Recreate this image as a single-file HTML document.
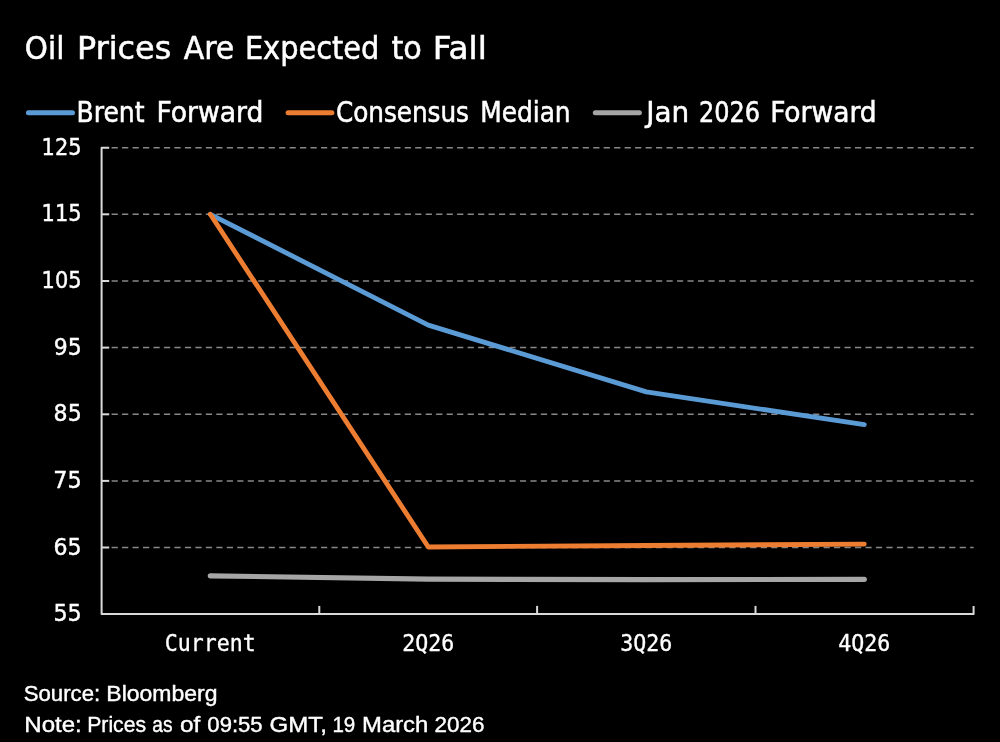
<!DOCTYPE html>
<html lang="en"><head><meta charset="utf-8"><title>Oil Prices Are Expected to Fall</title>
<style>html,body{margin:0;padding:0;background:#000;}body{width:1000px;height:742px;overflow:hidden;}svg{display:block;}.t{font-family:'DejaVu Sans Condensed','DejaVu Sans','Liberation Sans',sans-serif;font-stretch:condensed;fill:#fff;}.m{font-family:'DejaVu Sans Mono','Liberation Mono',monospace;fill:#fff;}.f{font-family:'Liberation Sans','DejaVu Sans',sans-serif;fill:#fff;}</style></head><body>
<svg width="1000" height="742" viewBox="0 0 1000 742">
<rect width="1000" height="742" fill="#000"/>
<text class="t" y="58.5" font-size="32.3" stroke="#fff" stroke-width="0.5"><tspan x="24.88" textLength="39.41" lengthAdjust="spacingAndGlyphs">Oil</tspan> <tspan x="77.13" textLength="94.12" lengthAdjust="spacingAndGlyphs">Prices</tspan> <tspan x="183.79" textLength="50.54" lengthAdjust="spacingAndGlyphs">Are</tspan> <tspan x="244.93" textLength="134.39" lengthAdjust="spacingAndGlyphs">Expected</tspan> <tspan x="391.47" textLength="30.41" lengthAdjust="spacingAndGlyphs">to</tspan> <tspan x="432.86" textLength="53.91" lengthAdjust="spacingAndGlyphs">Fall</tspan></text>
<line x1="28.4" y1="112.7" x2="72.5" y2="112.7" stroke="#5B9BD5" stroke-width="5" stroke-linecap="round"/>
<text class="t" y="121.6" font-size="27.5" stroke="#fff" stroke-width="0.5"><tspan x="76.57" textLength="67.98" lengthAdjust="spacingAndGlyphs">Brent</tspan> <tspan x="156.42" textLength="106.94" lengthAdjust="spacingAndGlyphs">Forward</tspan></text>
<line x1="288.1" y1="112.7" x2="331.9" y2="112.7" stroke="#ED7D31" stroke-width="5" stroke-linecap="round"/>
<text class="t" y="121.6" font-size="27.5" stroke="#fff" stroke-width="0.5"><tspan x="335.90" textLength="133.06" lengthAdjust="spacingAndGlyphs">Consensus</tspan> <tspan x="480.34" textLength="90.27" lengthAdjust="spacingAndGlyphs">Median</tspan></text>
<line x1="595.3" y1="112.7" x2="639.4" y2="112.7" stroke="#A5A5A5" stroke-width="5" stroke-linecap="round"/>
<text class="t" y="121.6" font-size="27.5" stroke="#fff" stroke-width="0.5"><tspan x="646.21" textLength="42.88" lengthAdjust="spacingAndGlyphs">Jan</tspan> <tspan x="699.01" textLength="61.00" lengthAdjust="spacingAndGlyphs">2026</tspan> <tspan x="770.18" textLength="106.42" lengthAdjust="spacingAndGlyphs">Forward</tspan></text>
<line x1="111.6" y1="147.7" x2="973.6" y2="147.7" stroke="#888" stroke-width="1.5" stroke-dasharray="6.2 4.27"/>
<line x1="111.6" y1="214.3" x2="973.6" y2="214.3" stroke="#888" stroke-width="1.5" stroke-dasharray="6.2 4.27"/>
<line x1="111.6" y1="281.0" x2="973.6" y2="281.0" stroke="#888" stroke-width="1.5" stroke-dasharray="6.2 4.27"/>
<line x1="111.6" y1="347.6" x2="973.6" y2="347.6" stroke="#888" stroke-width="1.5" stroke-dasharray="6.2 4.27"/>
<line x1="111.6" y1="414.3" x2="973.6" y2="414.3" stroke="#888" stroke-width="1.5" stroke-dasharray="6.2 4.27"/>
<line x1="111.6" y1="480.9" x2="973.6" y2="480.9" stroke="#888" stroke-width="1.5" stroke-dasharray="6.2 4.27"/>
<line x1="111.6" y1="547.5" x2="973.6" y2="547.5" stroke="#888" stroke-width="1.5" stroke-dasharray="6.2 4.27"/>
<text class="t" x="41.61" y="154.7" font-size="23.4" textLength="39.95" lengthAdjust="spacingAndGlyphs" stroke="#fff" stroke-width="0.4">125</text>
<text class="t" x="41.61" y="221.3" font-size="23.4" textLength="39.95" lengthAdjust="spacingAndGlyphs" stroke="#fff" stroke-width="0.4">115</text>
<text class="t" x="41.61" y="288.0" font-size="23.4" textLength="39.95" lengthAdjust="spacingAndGlyphs" stroke="#fff" stroke-width="0.4">105</text>
<text class="t" x="53.75" y="354.6" font-size="23.4" textLength="27.91" lengthAdjust="spacingAndGlyphs" stroke="#fff" stroke-width="0.4">95</text>
<text class="t" x="53.63" y="421.3" font-size="23.4" textLength="28.03" lengthAdjust="spacingAndGlyphs" stroke="#fff" stroke-width="0.4">85</text>
<text class="t" x="53.30" y="487.9" font-size="23.4" textLength="28.39" lengthAdjust="spacingAndGlyphs" stroke="#fff" stroke-width="0.4">75</text>
<text class="t" x="53.58" y="554.5" font-size="23.4" textLength="28.09" lengthAdjust="spacingAndGlyphs" stroke="#fff" stroke-width="0.4">65</text>
<text class="t" x="53.41" y="621.2" font-size="23.4" textLength="28.27" lengthAdjust="spacingAndGlyphs" stroke="#fff" stroke-width="0.4">55</text>
<polyline points="210.3,575.8 428.3,579.2 646.3,579.7 864.3,579.3" fill="none" stroke="#A6A6A6" stroke-width="5.2" stroke-linecap="round" stroke-linejoin="round"/>
<polyline points="210.3,214.3 428.3,325.1 646.3,391.9 864.3,424.6" fill="none" stroke="#5B9BD5" stroke-width="4.8" stroke-linecap="round" stroke-linejoin="round"/>
<polyline points="210.3,214.3 428.3,547.0 646.3,545.5 864.3,544.1" fill="none" stroke="#ED7D31" stroke-width="4.8" stroke-linecap="round" stroke-linejoin="round"/>
<path d="M109.2,147.7 H101.6 V614.1 H973.6 v-8.2" fill="none" stroke="#D9D9D9" stroke-width="2" stroke-linejoin="round" stroke-linecap="butt"/>
<line x1="101.6" y1="214.3" x2="109.2" y2="214.3" stroke="#D9D9D9" stroke-width="2"/>
<line x1="101.6" y1="281.0" x2="109.2" y2="281.0" stroke="#D9D9D9" stroke-width="2"/>
<line x1="101.6" y1="347.6" x2="109.2" y2="347.6" stroke="#D9D9D9" stroke-width="2"/>
<line x1="101.6" y1="414.3" x2="109.2" y2="414.3" stroke="#D9D9D9" stroke-width="2"/>
<line x1="101.6" y1="480.9" x2="109.2" y2="480.9" stroke="#D9D9D9" stroke-width="2"/>
<line x1="101.6" y1="547.5" x2="109.2" y2="547.5" stroke="#D9D9D9" stroke-width="2"/>
<line x1="319.3" y1="614.1" x2="319.3" y2="605.9" stroke="#D9D9D9" stroke-width="2"/>
<line x1="537.1" y1="614.1" x2="537.1" y2="605.9" stroke="#D9D9D9" stroke-width="2"/>
<line x1="755.5" y1="614.1" x2="755.5" y2="605.9" stroke="#D9D9D9" stroke-width="2"/>
<text class="m" x="164.7" y="650.6" font-size="23.2" textLength="91.0" lengthAdjust="spacingAndGlyphs" stroke="#fff" stroke-width="0.35">Current</text>
<text class="m" x="402.2" y="650.6" font-size="23.2" textLength="52.0" lengthAdjust="spacingAndGlyphs" stroke="#fff" stroke-width="0.35">2Q26</text>
<text class="m" x="620.2" y="650.6" font-size="23.2" textLength="52.0" lengthAdjust="spacingAndGlyphs" stroke="#fff" stroke-width="0.35">3Q26</text>
<text class="m" x="838.2" y="650.6" font-size="23.2" textLength="52.0" lengthAdjust="spacingAndGlyphs" stroke="#fff" stroke-width="0.35">4Q26</text>
<text class="f" y="701.3" font-size="21.7" stroke="#fff" stroke-width="0.4"><tspan x="23.73" textLength="76.50" lengthAdjust="spacingAndGlyphs">Source:</tspan> <tspan x="106.35" textLength="111.13" lengthAdjust="spacingAndGlyphs">Bloomberg</tspan></text>
<text class="f" y="732.4" font-size="21.7" stroke="#fff" stroke-width="0.4"><tspan x="24.26" textLength="57.52" lengthAdjust="spacingAndGlyphs">Note:</tspan> <tspan x="87.24" textLength="58.78" lengthAdjust="spacingAndGlyphs">Prices</tspan> <tspan x="152.36" textLength="20.17" lengthAdjust="spacingAndGlyphs">as</tspan> <tspan x="179.94" textLength="20.30" lengthAdjust="spacingAndGlyphs">of</tspan> <tspan x="207.39" textLength="55.28" lengthAdjust="spacingAndGlyphs">09:55</tspan> <tspan x="269.54" textLength="57.41" lengthAdjust="spacingAndGlyphs">GMT,</tspan> <tspan x="332.38" textLength="22.90" lengthAdjust="spacingAndGlyphs">19</tspan> <tspan x="362.03" textLength="66.30" lengthAdjust="spacingAndGlyphs">March</tspan> <tspan x="434.61" textLength="49.89" lengthAdjust="spacingAndGlyphs">2026</tspan></text>
</svg></body></html>
